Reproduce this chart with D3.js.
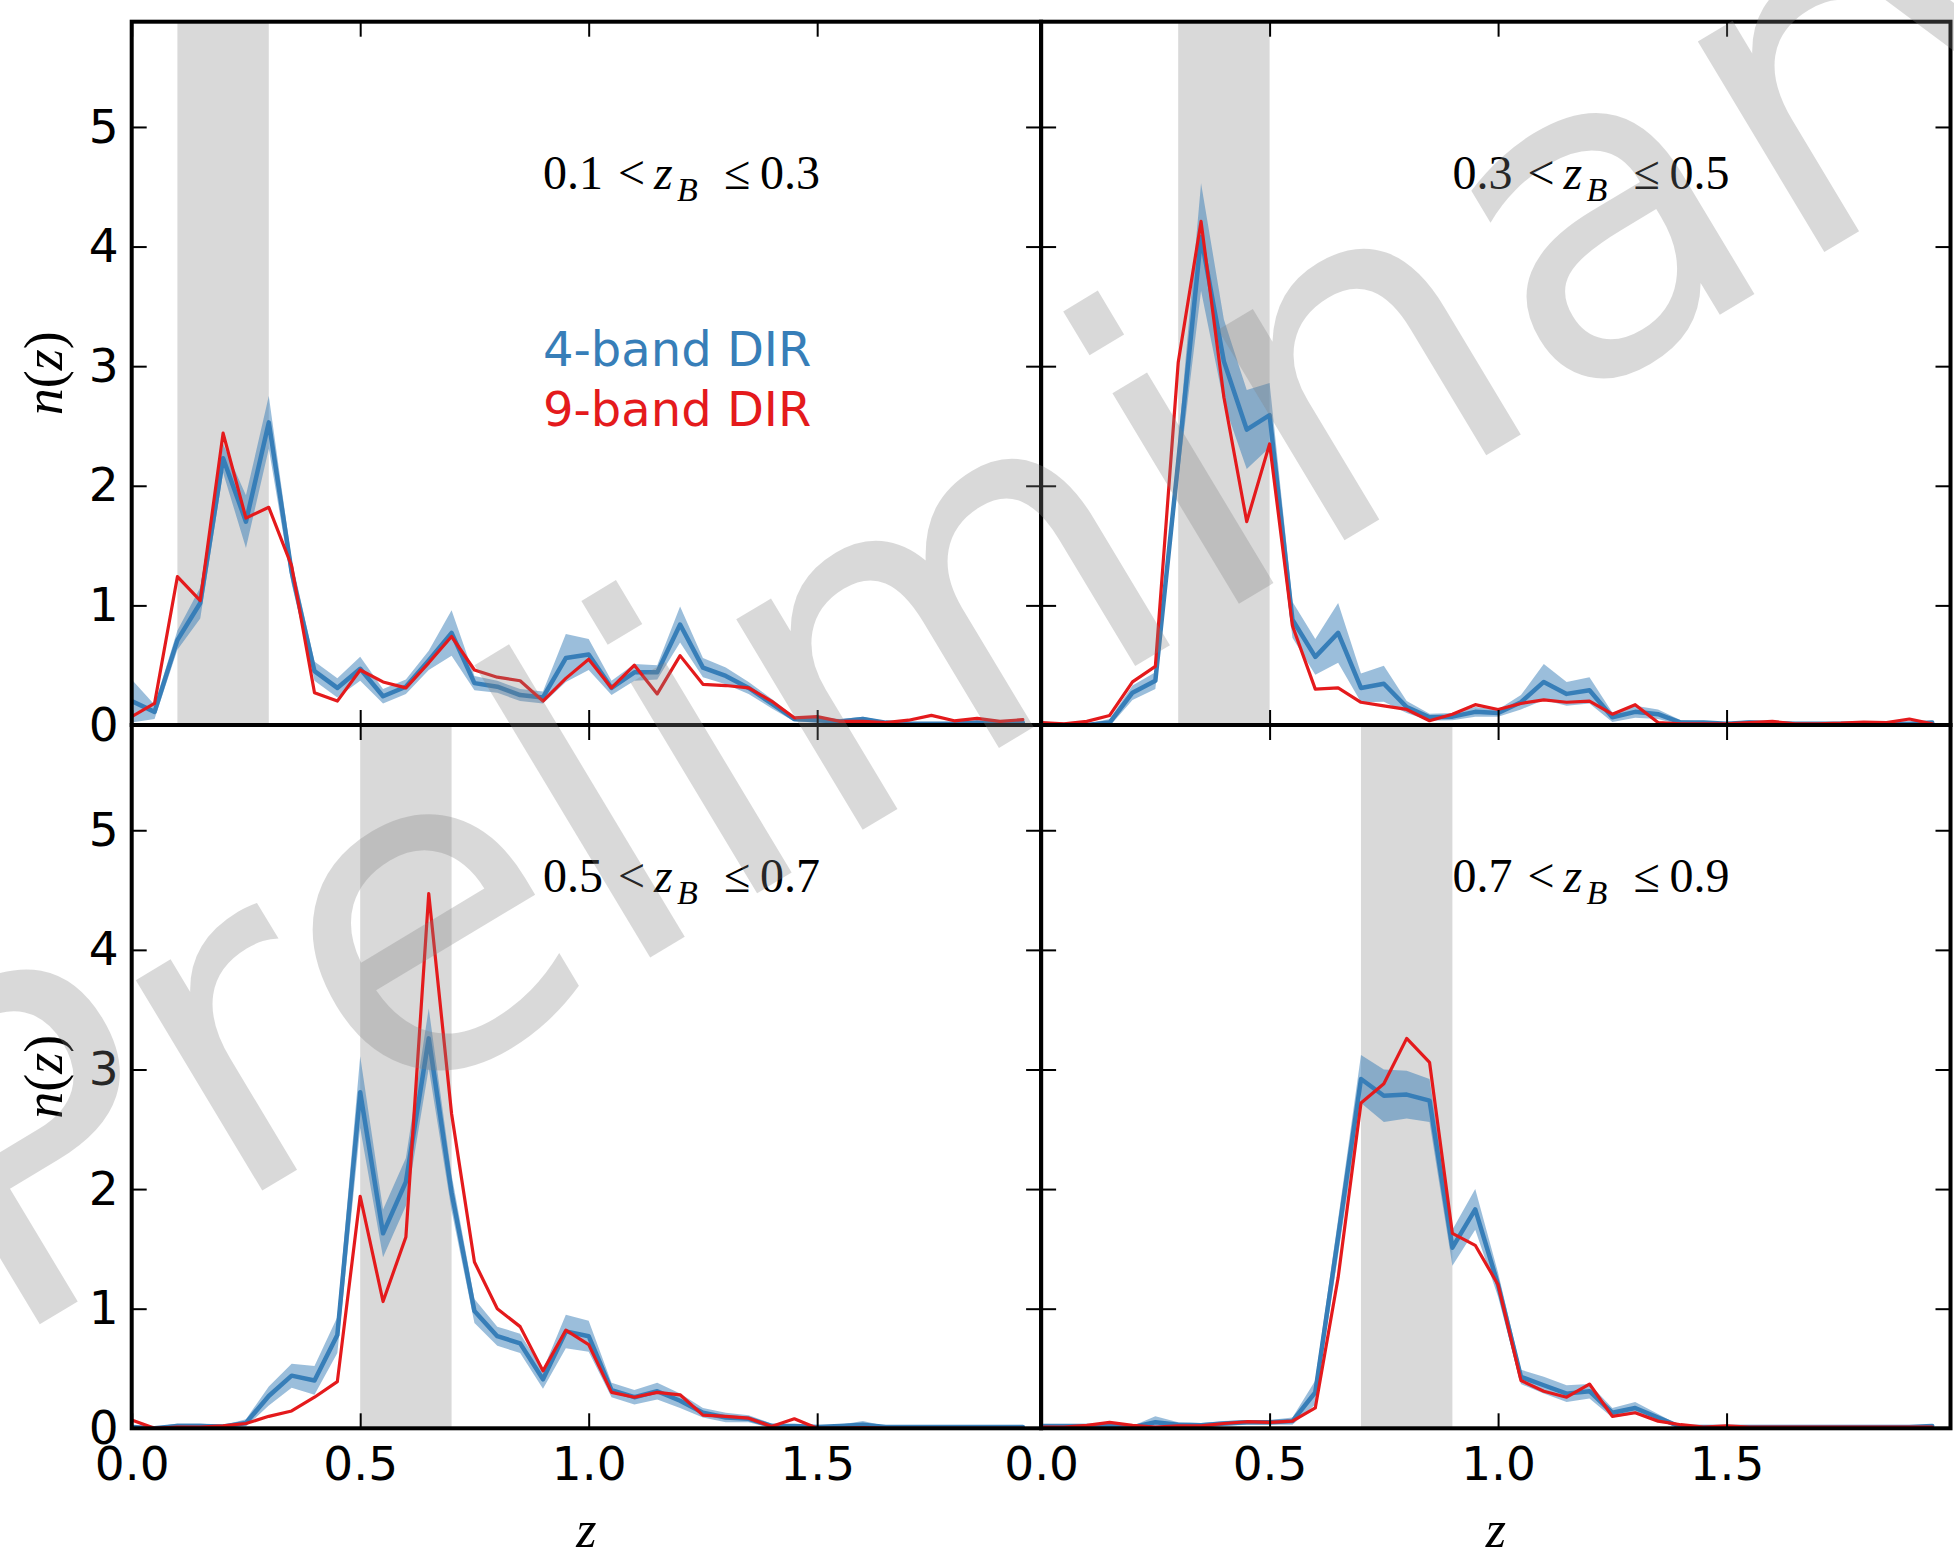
<!DOCTYPE html>
<html>
<head>
<meta charset="utf-8">
<script src="https://cdn.jsdelivr.net/npm/d3@7"></script>
<style>
  html, body { margin: 0; padding: 0; background: #ffffff; }
  svg { display: block; }
</style>
</head>
<body>
<svg id="fig" width="1954" height="1558"></svg>
<script>
// Redshift grid shared by every n(z) curve
const zGrid = [0.00, 0.05, 0.10, 0.15, 0.20, 0.25, 0.30, 0.35, 0.40, 0.45,
               0.50, 0.55, 0.60, 0.65, 0.70, 0.75, 0.80, 0.85, 0.90, 0.95,
               1.00, 1.05, 1.10, 1.15, 1.20, 1.25, 1.30, 1.35, 1.40, 1.45,
               1.50, 1.55, 1.60, 1.65, 1.70, 1.75, 1.80, 1.85, 1.90, 1.95];

// Photometric-redshift bins (z_B ranges), one per panel
const binLo = [0.1, 0.3, 0.5, 0.7];
const binHi = [0.3, 0.5, 0.7, 0.9];
const binLoText = ["0.1", "0.3", "0.5", "0.7"];
const binHiText = ["0.3", "0.5", "0.7", "0.9"];

// Bin 1: 0.1 < z_B <= 0.3
const n4Bin1 = [0.20, 0.11, 0.71, 1.02, 2.23, 1.70, 2.53, 1.28, 0.45, 0.31,
                0.47, 0.24, 0.32, 0.54, 0.77, 0.35, 0.32, 0.25, 0.23, 0.56,
                0.59, 0.31, 0.44, 0.44, 0.84, 0.48, 0.41, 0.31, 0.18, 0.05,
                0.04, 0.03, 0.05, 0.02, 0.01, 0.01, 0.01, 0.02, 0.01, 0.02];
const err4Bin1 = [0.18, 0.06, 0.08, 0.13, 0.12, 0.22, 0.22, 0.10, 0.08, 0.08,
                  0.10, 0.06, 0.06, 0.08, 0.19, 0.06, 0.05, 0.05, 0.05, 0.20,
                  0.13, 0.06, 0.07, 0.06, 0.15, 0.08, 0.07, 0.05, 0.04, 0.02,
                  0.02, 0.02, 0.02, 0.01, 0.01, 0.01, 0.01, 0.01, 0.01, 0.01];
const n9Bin1 = [0.07, 0.18, 1.24, 1.04, 2.44, 1.73, 1.82, 1.33, 0.27, 0.20,
                0.46, 0.36, 0.31, 0.52, 0.74, 0.46, 0.40, 0.37, 0.20, 0.39,
                0.55, 0.31, 0.50, 0.26, 0.58, 0.34, 0.33, 0.31, 0.20, 0.06,
                0.07, 0.03, 0.03, 0.02, 0.04, 0.08, 0.035, 0.055, 0.03, 0.045];

// Bin 2: 0.3 < z_B <= 0.5
const n4Bin2 = [0.01, 0.00, 0.00, 0.02, 0.27, 0.37, 2.20, 4.08, 3.04, 2.47,
                2.59, 0.88, 0.57, 0.77, 0.31, 0.345, 0.15, 0.065, 0.07, 0.11,
                0.10, 0.19, 0.36, 0.26, 0.29, 0.065, 0.11, 0.09, 0.02, 0.02,
                0.01, 0.02, 0.015, 0.01, 0.01, 0.01, 0.01, 0.01, 0.01, 0.02];
const err4Bin2 = [0.01, 0.01, 0.01, 0.03, 0.06, 0.07, 0.15, 0.45, 0.35, 0.33,
                  0.27, 0.15, 0.15, 0.25, 0.12, 0.15, 0.05, 0.03, 0.03, 0.04,
                  0.03, 0.06, 0.15, 0.10, 0.11, 0.04, 0.05, 0.04, 0.02, 0.01,
                  0.01, 0.02, 0.01, 0.01, 0.01, 0.01, 0.01, 0.01, 0.01, 0.01];
const n9Bin2 = [0.02, 0.01, 0.03, 0.08, 0.36, 0.49, 3.03, 4.21, 2.74, 1.70,
                2.35, 0.83, 0.30, 0.31, 0.19, 0.16, 0.13, 0.036, 0.09, 0.17,
                0.13, 0.18, 0.21, 0.19, 0.20, 0.09, 0.17, 0.02, 0.01, 0.01,
                0.01, 0.02, 0.03, 0.01, 0.01, 0.015, 0.025, 0.02, 0.05, 0.01];

// Bin 3: 0.5 < z_B <= 0.7
const n4Bin3 = [0.01, 0.00, 0.02, 0.02, 0.015, 0.045, 0.27, 0.44, 0.40, 0.78,
                2.81, 1.63, 2.06, 3.26, 1.97, 0.98, 0.77, 0.71, 0.41, 0.81,
                0.77, 0.32, 0.26, 0.31, 0.23, 0.13, 0.09, 0.08, 0.02, 0.02,
                0.01, 0.02, 0.03, 0.01, 0.01, 0.01, 0.01, 0.01, 0.01, 0.01];
const err4Bin3 = [0.01, 0.01, 0.02, 0.02, 0.01, 0.03, 0.08, 0.10, 0.12, 0.15,
                  0.30, 0.20, 0.20, 0.25, 0.15, 0.10, 0.08, 0.08, 0.08, 0.14,
                  0.13, 0.06, 0.06, 0.07, 0.06, 0.04, 0.04, 0.03, 0.02, 0.01,
                  0.01, 0.01, 0.03, 0.01, 0.01, 0.01, 0.01, 0.01, 0.01, 0.01];
const n9Bin3 = [0.07, 0.00, 0.01, 0.01, 0.02, 0.04, 0.10, 0.145, 0.26, 0.39,
                1.94, 1.06, 1.60, 4.47, 2.63, 1.39, 1.00, 0.85, 0.48, 0.82,
                0.70, 0.30, 0.26, 0.30, 0.28, 0.11, 0.10, 0.085, 0.015, 0.08,
                0.00, 0.00, 0.005, 0.00, 0.00, 0.00, 0.00, 0.00, 0.00, 0.00];

// Bin 4: 0.7 < z_B <= 0.9
const n4Bin4 = [0.02, 0.02, 0.02, 0.02, 0.01, 0.05, 0.03, 0.025, 0.04, 0.05,
                0.05, 0.06, 0.30, 1.60, 2.92, 2.78, 2.79, 2.74, 1.51, 1.83,
                1.20, 0.43, 0.36, 0.29, 0.31, 0.13, 0.17, 0.09, 0.01, 0.01,
                0.01, 0.01, 0.01, 0.01, 0.01, 0.01, 0.01, 0.01, 0.01, 0.02];
const err4Bin4 = [0.01, 0.01, 0.01, 0.01, 0.01, 0.05, 0.02, 0.02, 0.02, 0.02,
                  0.02, 0.03, 0.10, 0.15, 0.20, 0.22, 0.20, 0.18, 0.15, 0.17,
                  0.10, 0.06, 0.07, 0.07, 0.06, 0.04, 0.05, 0.03, 0.01, 0.01,
                  0.01, 0.01, 0.01, 0.01, 0.01, 0.01, 0.01, 0.01, 0.01, 0.01];
const n9Bin4 = [0.01, 0.01, 0.025, 0.05, 0.025, 0.01, 0.02, 0.02, 0.04, 0.055,
                0.05, 0.06, 0.17, 1.26, 2.72, 2.88, 3.26, 3.06, 1.63, 1.53,
                1.20, 0.40, 0.31, 0.26, 0.37, 0.10, 0.13, 0.06, 0.03, 0.01,
                0.02, 0.01, 0.01, 0.01, 0.01, 0.01, 0.01, 0.01, 0.01, 0.01];

// Axis ticks
const xTicks = [0.0, 0.5, 1.0, 1.5];
const yTicks = [0, 1, 2, 3, 4, 5];

// Series names
const seriesNames = ["4-band DIR", "9-band DIR"];

// ---------------------------------------------------------------------------
const panels = [
  { n4: n4Bin1, err4: err4Bin1, n9: n9Bin1 },
  { n4: n4Bin2, err4: err4Bin2, n9: n9Bin2 },
  { n4: n4Bin3, err4: err4Bin3, n9: n9Bin3 },
  { n4: n4Bin4, err4: err4Bin4, n9: n9Bin4 }
];

const BLUE = "#377eb8", RED = "#e41a1c";
const xDomain = [0, 1.99], yDomain = [0, 5.88];
const colX = [131.7, 1041.1], colW = 909.4;
const rowY = [21.7, 725.0], rowH = 703.3;
const TICK = 15;
const tickFont = "'DejaVu Sans', sans-serif";
const mathFont = "'Liberation Serif', 'DejaVu Serif', serif";

const svg = d3.select("#fig");
const defs = svg.append("defs");

panels.forEach((p, i) => {
  const col = i % 2, row = Math.floor(i / 2);
  const x = d3.scaleLinear(xDomain, [colX[col], colX[col] + colW]);
  const y = d3.scaleLinear(yDomain, [rowY[row] + rowH, rowY[row]]);
  const g = svg.append("g").attr("class", "panel");

  const clipId = "clip" + i;
  defs.append("clipPath").attr("id", clipId)
    .append("rect")
    .attr("x", colX[col]).attr("y", rowY[row])
    .attr("width", colW).attr("height", rowH);

  const plot = g.append("g").attr("clip-path", `url(#${clipId})`);

  // shaded z_B range of this bin
  plot.append("rect")
    .attr("x", x(binLo[i]))
    .attr("width", x(binHi[i]) - x(binLo[i]))
    .attr("y", rowY[row]).attr("height", rowH)
    .attr("fill", "#808080").attr("fill-opacity", 0.3);

  // 4-band uncertainty band
  const area = d3.area()
    .x((d, j) => x(zGrid[j]))
    .y0((d, j) => y(p.n4[j] - p.err4[j]))
    .y1((d, j) => y(p.n4[j] + p.err4[j]));
  plot.append("path").datum(p.n4)
    .attr("d", area)
    .attr("fill", BLUE).attr("fill-opacity", 0.5);

  const line = d3.line().x((d, j) => x(zGrid[j])).y(d => y(d));
  plot.append("path").datum(p.n4)
    .attr("d", line).attr("fill", "none")
    .attr("stroke", BLUE).attr("stroke-width", 4.5)
    .attr("stroke-linejoin", "round").attr("stroke-linecap", "round");
  plot.append("path").datum(p.n9)
    .attr("d", line).attr("fill", "none")
    .attr("stroke", RED).attr("stroke-width", 3.2)
    .attr("stroke-linejoin", "round").attr("stroke-linecap", "round");

  // axes: inward ticks on all four sides
  const styleAxis = sel => {
    sel.select(".domain").remove();
    sel.selectAll(".tick line").attr("stroke", "#000").attr("stroke-width", 2);
    sel.selectAll(".tick text")
      .attr("fill", "#000")
      .attr("font-family", tickFont)
      .attr("font-size", 47);
    sel.attr("font-family", null).attr("font-size", null);
  };

  g.append("g")
    .attr("transform", `translate(0,${rowY[row] + rowH})`)
    .call(d3.axisBottom(x).tickValues(xTicks).tickSize(-TICK).tickSizeOuter(0)
      .tickPadding(18).tickFormat(row === 1 ? d3.format(".1f") : () => ""))
    .call(styleAxis);
  g.append("g")
    .attr("transform", `translate(0,${rowY[row]})`)
    .call(d3.axisTop(x).tickValues(xTicks).tickSize(-TICK).tickSizeOuter(0)
      .tickFormat(() => ""))
    .call(styleAxis);
  g.append("g")
    .attr("transform", `translate(${colX[col]},0)`)
    .call(d3.axisLeft(y).tickValues(yTicks).tickSize(-TICK).tickSizeOuter(0)
      .tickPadding(13).tickFormat(col === 0 ? d3.format("d") : () => ""))
    .call(styleAxis);
  g.append("g")
    .attr("transform", `translate(${colX[col] + colW},0)`)
    .call(d3.axisRight(y).tickValues(yTicks).tickSize(-TICK).tickSizeOuter(0)
      .tickFormat(() => ""))
    .call(styleAxis);

  // frame
  g.append("rect")
    .attr("x", colX[col]).attr("y", rowY[row])
    .attr("width", colW).attr("height", rowH)
    .attr("fill", "none").attr("stroke", "#000").attr("stroke-width", 4);

  // bin label  lo < z_B <= hi
  const lx = x(0.9), ly = y(4.48);
  const lab = g.append("g").attr("font-family", mathFont).attr("font-size", 48).attr("fill", "#000");
  lab.append("text").attr("x", lx).attr("y", ly).text(binLoText[i]);
  lab.append("text").attr("x", lx + 75).attr("y", ly).text("<");
  lab.append("text").attr("x", lx + 111).attr("y", ly).attr("font-style", "italic").text("z");
  lab.append("text").attr("x", lx + 134).attr("y", ly + 12).attr("font-style", "italic")
    .attr("font-size", 34).text("B");
  lab.append("text").attr("x", lx + 181).attr("y", ly).text("\u2264");
  lab.append("text").attr("x", lx + 217).attr("y", ly).text(binHiText[i]);

  // legend text in the first panel
  if (i === 0) {
    g.append("text").attr("x", x(0.9)).attr("y", y(3.0))
      .attr("font-family", tickFont).attr("font-size", 48).attr("fill", BLUE)
      .text(seriesNames[0]);
    g.append("text").attr("x", x(0.9)).attr("y", y(2.5))
      .attr("font-family", tickFont).attr("font-size", 48).attr("fill", RED)
      .text(seriesNames[1]);
  }

  // axis titles
  if (row === 1) {
    g.append("text")
      .attr("x", colX[col] + colW / 2).attr("y", 1547)
      .attr("text-anchor", "middle")
      .attr("font-family", mathFont).attr("font-size", 52).attr("font-style", "italic")
      .text("z");
  }
  if (col === 0) {
    const cy = rowY[row] + rowH / 2;
    const t = g.append("text")
      .attr("transform", `translate(62,${cy}) rotate(-90)`)
      .attr("text-anchor", "middle")
      .attr("font-family", mathFont).attr("font-size", 54);
    t.append("tspan").attr("font-style", "italic").text("n");
    t.append("tspan").text("(");
    t.append("tspan").attr("font-style", "italic").text("z");
    t.append("tspan").text(")");
  }
});

// watermark across the whole figure
svg.append("text")
  .attr("transform", "translate(2,1347) rotate(-31)")
  .attr("font-family", tickFont)
  .attr("font-size", 449)
  .attr("fill", "#808080").attr("fill-opacity", 0.3)
  .text("Preliminary");
</script>
</body>
</html>
